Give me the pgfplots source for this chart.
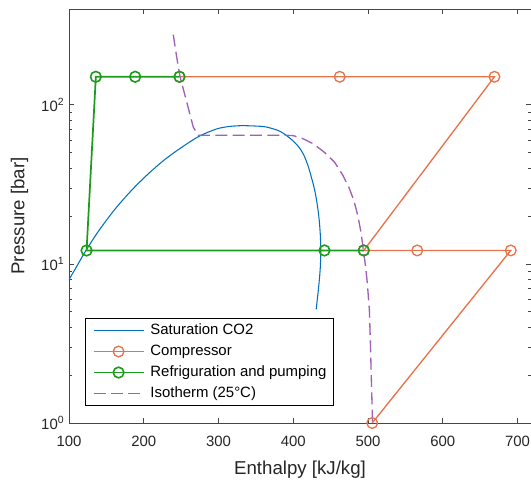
\documentclass[border=0pt]{standalone}
\usepackage{pgfplots}
\pgfplotsset{compat=1.18}
\usepackage{fontspec}
\setmainfont{Liberation Sans}
\definecolor{cblue}{RGB}{0,114,189}
\definecolor{corange}{RGB}{232,115,75}
\definecolor{cgreen}{RGB}{30,155,30}
\definecolor{cpurple}{RGB}{160,95,185}
\definecolor{caxis}{RGB}{70,70,70}
\definecolor{ctext}{RGB}{38,38,38}
\begin{document}
\begin{tikzpicture}
\path[use as bounding box] (-51.75pt,-43.5pt) rectangle (346.5pt,317.25pt);
\begin{axis}[
  at={(0pt,0pt)}, anchor=south west,
  scale only axis, width=346.5pt, height=310.5pt,
  ymode=log, xmin=100, xmax=718, ymin=1, ymax=400,
  xtick={100,200,...,700},
  ytick={1,10,100},
  yticklabels={10\textsuperscript{0},10\textsuperscript{1},10\textsuperscript{2}},
  /pgf/number format/assume math mode=true,
  /pgf/number format/1000 sep={},
  tick label style={font=\fontsize{11.2}{13}\selectfont, text=ctext},
  xticklabel style={yshift=-6pt},
  label style={font=\fontsize{14}{17}\selectfont, text=ctext},
  xlabel={Enthalpy [kJ/kg]},
  ylabel={Pressure [bar]},
  xlabel style={at={(axis description cs:0.5,-0.113)}, anchor=center},
  ylabel style={at={(axis description cs:-0.107,0.5)}, anchor=center},
  axis line style={caxis, line width=0.6pt},
  every tick/.style={caxis, line width=0.5pt},
  major tick length=3.5pt, minor tick length=2pt,
  tick align=inside,
  clip=true,
  legend cell align=left,
  legend image code/.code={\draw[mark repeat=2,mark phase=2,#1] plot coordinates {(0pt,0pt) (18.75pt,0pt) (37.5pt,0pt)};},
  legend style={at={(axis description cs:0.0346,0.0411)}, anchor=south west,
    draw=black, line width=0.6pt, fill=white,
    font=\fontsize{11.2}{13}\selectfont, text=black,
    inner xsep=5.5pt, inner ysep=3.8pt, row sep=5.25pt, column sep=4.5pt,
    nodes={inner sep=0pt, text height=8.2pt, text depth=2.3pt}},
]
\addplot[cblue, line width=0.8pt, smooth, tension=0.5] coordinates {
 (85,6.03) (99.6,7.91) (111,9.77) (122.7,12.16) (140.5,16.33) (162.9,22.49)
 (185.2,29.51) (207.4,37.33) (229.8,45.92) (252.1,54.58) (274.3,63.53)
 (296.7,70.31) (310,72.61) (319,73.45) (331.5,73.96) (341,73.79) (352,73.45)
 (363.5,72.61) (379,69.18) (387,66.07) (398,60.26) (406.5,54.95) (413.5,48.98)
 (419.5,41.69) (424.5,34.67) (428.8,28.84) (432.5,22.91) (434.8,18.62)
 (436.2,15.14) (436.8,12.19) (436.4,10.0) (435.2,8.26) (433,6.50) (430.6,5.18)
};
\addlegendentry{Saturation CO2}
\addplot[corange, line width=1pt, mark=o, mark size=4pt, mark options={line width=1pt, solid}] coordinates {
 (505.6,1) (690.9,12.15) (565.8,12.15) (494.3,12.15) (669.1,150) (462.1,150) (247.8,150)
};
\addlegendentry{Compressor}
\addplot[cgreen, line width=1.3pt, mark=o, mark size=4pt, mark options={line width=1.2pt, solid}] coordinates {
 (494.3,12.15) (441.7,12.15) (123.5,12.15) (135.9,150) (188.5,150) (247.8,150)
};
\addlegendentry{Refriguration and pumping}
\addplot[cpurple, line width=1pt, dash pattern=on 9pt off 4pt] coordinates {
 (239.5,276) (244,200) (248.5,150.6) (257,106) (266.3,72.3) (273,64.3)
 (391,64.3) (400,64.0) (412,61.5) (426.8,56.9) (442,50.1) (455,43.7)
 (466,36.3) (474.5,30.2) (481,25.1) (486.5,19.95) (490.5,15.85) (493.8,12.16)
 (496.8,9.55) (499.1,7.52) (501.8,5.11) (503.2,3.16) (504,2.25) (505,1.51) (506,1.0)
};
\addlegendentry{Isotherm (25°C)}
\end{axis}
\end{tikzpicture}
\end{document}
